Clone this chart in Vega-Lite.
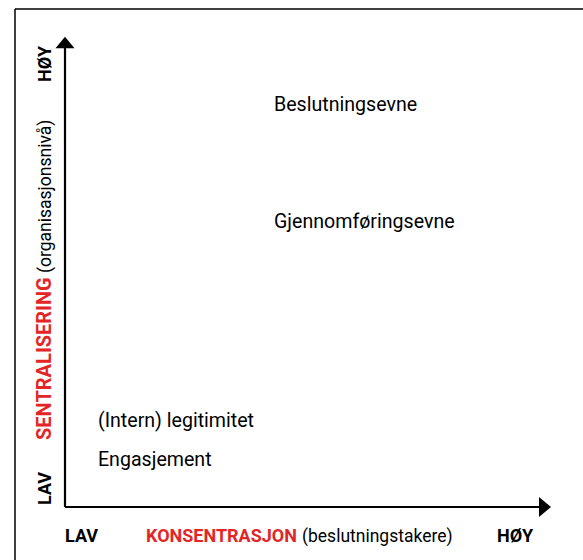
{
  "$schema": "https://vega.github.io/schema/vega-lite/v6.json",
  "width": 583,
  "height": 560,
  "padding": 0,
  "autosize": {"type": "none"},
  "background": "white",
  "config": {"view": {"stroke": null}},
  "datasets": {
    "border": [
      {"x": -10.31, "y": 105.96, "x2": 106.8, "y2": 105.96},
      {"x": -10.31, "y": 105.96, "x2": -10.31, "y2": -11.28}
    ],
    "axes": [
      {"x": 0, "y": 0, "x2": 0, "y2": 98.0},
      {"x": 0, "y": 0, "x2": 98.4, "y2": 0}
    ],
    "heads": [
      {"x": 0, "y": 98.83, "dir": "up"},
      {"x": 98.97, "y": 0, "dir": "right"}
    ],
    "labels": [
      {"x": 43.09, "y": 84.26, "text": "Beslutningsevne", "kind": "item"},
      {"x": 43.09, "y": 59.36, "text": "Gjennomføringsevne", "kind": "item"},
      {"x": 6.8, "y": 17.02, "text": "(Intern) legitimitet", "kind": "item"},
      {"x": 6.8, "y": 8.72, "text": "Engasjement", "kind": "item"},
      {"x": 0, "y": -7.45, "text": "LAV", "kind": "end"},
      {"x": 89.07, "y": -7.45, "text": "HØY", "kind": "end"},
      {"x": 16.7, "y": -7.45, "text": "KONSENTRASJON", "kind": "title"},
      {"x": 48.87, "y": -7.45, "text": "(beslutningstakere)", "kind": "sub"}
    ],
    "vlabels": [
      {"x": -2.89, "y": 0.43, "text": "LAV", "kind": "end"},
      {"x": -2.89, "y": 90.43, "text": "HØY", "kind": "end"},
      {"x": -2.89, "y": 14.26, "text": "SENTRALISERING", "kind": "title"},
      {"x": -2.89, "y": 49.79, "text": "(organisasjonsnivå)", "kind": "sub"}
    ]
  },
  "encoding": {
    "x": {"field": "x", "type": "quantitative", "scale": {"domain": [-13.402, 106.804], "nice": false, "zero": false}, "axis": null},
    "y": {"field": "y", "type": "quantitative", "scale": {"domain": [-11.277, 107.872], "nice": false, "zero": false}, "axis": null}
  },
  "layer": [
    {
      "data": {"name": "border"},
      "mark": {"type": "rule", "color": "#000000", "strokeWidth": 1.5},
      "encoding": {"x2": {"field": "x2"}, "y2": {"field": "y2"}}
    },
    {
      "data": {"name": "axes"},
      "mark": {"type": "rule", "color": "#000000", "strokeWidth": 2.2},
      "encoding": {"x2": {"field": "x2"}, "y2": {"field": "y2"}}
    },
    {
      "data": {"name": "heads"},
      "transform": [{"filter": "datum.dir === 'up'"}],
      "mark": {"type": "point", "shape": "M -1 0.6 L 0 -0.6 L 1 0.6 Z", "size": 361, "filled": true, "color": "#000000", "opacity": 1},
      "encoding": {}
    },
    {
      "data": {"name": "heads"},
      "transform": [{"filter": "datum.dir === 'right'"}],
      "mark": {"type": "point", "shape": "M -0.6 -1 L 0.6 0 L -0.6 1 Z", "size": 400, "filled": true, "color": "#000000", "opacity": 1},
      "encoding": {}
    },
    {
      "data": {"name": "labels"},
      "transform": [{"filter": "datum.kind === 'item'"}],
      "mark": {"type": "text", "align": "left", "baseline": "alphabetic", "font": "Roboto", "fontSize": 19.6, "color": "#000000"},
      "encoding": {"text": {"field": "text"}}
    },
    {
      "data": {"name": "labels"},
      "transform": [{"filter": "datum.kind === 'sub'"}],
      "mark": {"type": "text", "align": "left", "baseline": "alphabetic", "font": "Roboto", "fontSize": 17.5, "color": "#000000"},
      "encoding": {"text": {"field": "text"}}
    },
    {
      "data": {"name": "labels"},
      "transform": [{"filter": "datum.kind === 'end'"}],
      "mark": {"type": "text", "align": "left", "baseline": "alphabetic", "font": "Roboto", "fontWeight": "bold", "fontSize": 18, "color": "#000000"},
      "encoding": {"text": {"field": "text"}}
    },
    {
      "data": {"name": "labels"},
      "transform": [{"filter": "datum.kind === 'title'"}],
      "mark": {"type": "text", "align": "left", "baseline": "alphabetic", "font": "Roboto", "fontWeight": "bold", "fontSize": 18, "color": "#e32526"},
      "encoding": {"text": {"field": "text"}}
    },
    {
      "data": {"name": "vlabels"},
      "transform": [{"filter": "datum.kind === 'sub'"}],
      "mark": {"type": "text", "angle": 270, "align": "left", "baseline": "alphabetic", "font": "Roboto", "fontSize": 17.5, "color": "#000000"},
      "encoding": {"text": {"field": "text"}}
    },
    {
      "data": {"name": "vlabels"},
      "transform": [{"filter": "datum.kind === 'end'"}],
      "mark": {"type": "text", "angle": 270, "align": "left", "baseline": "alphabetic", "font": "Roboto", "fontWeight": "bold", "fontSize": 18, "color": "#000000"},
      "encoding": {"text": {"field": "text"}}
    },
    {
      "data": {"name": "vlabels"},
      "transform": [{"filter": "datum.kind === 'title'"}],
      "mark": {"type": "text", "angle": 270, "align": "left", "baseline": "alphabetic", "font": "Roboto", "fontWeight": "bold", "fontSize": 20, "color": "#e32526"},
      "encoding": {"text": {"field": "text"}}
    }
  ]
}
